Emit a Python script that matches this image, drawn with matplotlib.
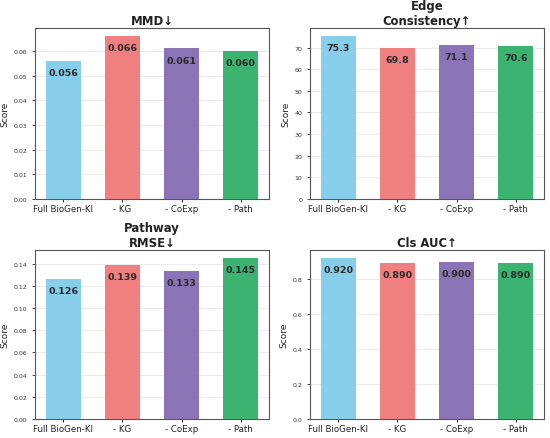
import matplotlib
matplotlib.use("Agg")
import matplotlib.pyplot as plt

variants = ["Full BioGen-KI", "- KG", "- CoExp", "- Path"]
mmd = [0.056, 0.066, 0.061, 0.060]
edge = [75.3, 69.8, 71.1, 70.6]
pathway = [0.126, 0.139, 0.133, 0.145]
cls_auc = [0.920, 0.890, 0.900, 0.890]

titles = ["MMD↓", "Edge\nConsistency↑", "Pathway\nRMSE↓", "Cls AUC↑"]
fmts = ["{:.3f}", "{:.1f}", "{:.3f}", "{:.3f}"]
colors = ["#87CEEB", "#F08080", "#8B74B6", "#3CB371"]

fig = plt.figure(figsize=(5.5, 4.39), dpi=100)
W, H = 550, 439
boxes = [(35, 29, 269, 200), (310, 29, 544, 200),
         (35, 251, 269, 420), (310, 251, 544, 420)]
data = [mmd, edge, pathway, cls_auc]

for (l, t, r, b), vals, title, fmt in zip(boxes, data, titles, fmts):
    ax = fig.add_axes([l / W, 1 - b / H, (r - l) / W, (b - t) / H])
    x = range(len(variants))
    bars = ax.bar(x, vals, width=0.6, color=colors, zorder=3)
    ax.set_ylim(0, max(vals) * 1.05)
    ax.set_xticks(list(x))
    ax.set_xticklabels(variants, fontsize=6.2, color="#222222")
    ax.tick_params(axis="y", labelsize=4.5, colors="#333333", length=2, width=0.6)
    ax.tick_params(axis="x", length=2, width=0.6, pad=1.5)
    ax.set_ylabel("Score", fontsize=6.5, labelpad=3, color="#222222")
    ax.set_title(title, fontsize=8.4, fontweight="bold", pad=3, linespacing=1.2,
                 color="#222222")
    ax.grid(axis="y", color="#e8e8e8", linewidth=0.6, zorder=0)
    ax.set_axisbelow(True)
    for s in ax.spines.values():
        s.set_color("#555555")
        s.set_linewidth(0.8)
    for bar, v in zip(bars, vals):
        ax.annotate(fmt.format(v), (bar.get_x() + bar.get_width() / 2, v),
                    xytext=(0, -8.3), textcoords="offset points",
                    ha="center", va="center", fontsize=6.8,
                    fontweight="bold", color="#2a2a2a", zorder=4)

fig.savefig("out.png", dpi=100)
